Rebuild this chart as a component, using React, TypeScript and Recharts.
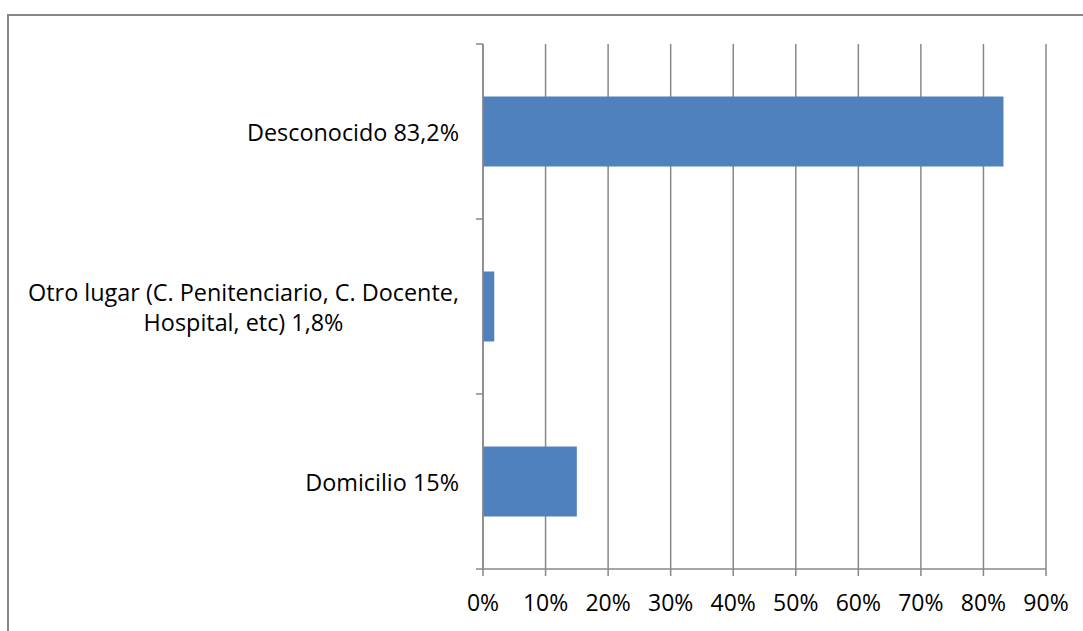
import React from 'react'
import { BarChart, Bar, XAxis, YAxis, CartesianGrid } from 'recharts'

const categories = [
  'Desconocido 83,2%',
  'Otro lugar (C. Penitenciario, C. Docente,\nHospital, etc) 1,8%',
  'Domicilio 15%',
]
const values = [0.832, 0.018, 0.15]
const xTicks = [0, 0.1, 0.2, 0.3, 0.4, 0.5, 0.6, 0.7, 0.8, 0.9]

const data = categories.map((name, i) => ({ name, value: values[i] }))

const FONT = '"Open Sans", sans-serif'
const GRID = '#888888'

// category label + Excel-style tick marks on the band edges
function CategoryTick(props: any) {
  const { x, y, payload, index, visibleTicksCount } = props
  const lines = String(payload.value).split('\n')
  const half = payload.offset || 0
  const axisX = x + 8
  const isLast = index === visibleTicksCount - 1
  return (
    <g>
      <line x1={axisX - 7} x2={axisX} y1={y - half} y2={y - half} stroke={GRID} strokeWidth={1.5} />
      {isLast && (
        <line x1={axisX - 7} x2={axisX} y1={y + half} y2={y + half} stroke={GRID} strokeWidth={1.5} />
      )}
      <foreignObject x={x - 491} y={y - 50} width={475} height={100}>
        <div
          style={{
            height: '100%',
            display: 'flex',
            justifyContent: 'flex-end',
            alignItems: 'center',
            fontFamily: FONT,
            fontSize: 23.4,
            color: '#000',
          }}
        >
          <div style={{ textAlign: 'center', lineHeight: '30px', whiteSpace: 'nowrap' }}>
            {lines.map((l, i) => (
              <div key={i}>{l}</div>
            ))}
          </div>
        </div>
      </foreignObject>
    </g>
  )
}

export default function App() {
  return (
    <div
      style={{
        position: 'absolute',
        left: 0,
        top: 0,
        width: 1083,
        height: 631,
        overflow: 'hidden',
        background: '#fff',
      }}
    >
      <div
        style={{
          position: 'absolute',
          left: 7,
          top: 14,
          width: 1200,
          height: 800,
          border: '2px solid #878787',
        }}
      />
      <div style={{ position: 'absolute', left: 0, top: 0 }}>
        <BarChart
          width={1083}
          height={631}
          data={data}
          layout="vertical"
          margin={{ top: 44, right: 37, bottom: 0, left: 0 }}
          barCategoryGap="30%"
        >
          <CartesianGrid horizontal={false} stroke={GRID} strokeWidth={1.5} />
          <XAxis
            type="number"
            domain={[0, 0.9]}
            ticks={xTicks}
            interval={0}
            height={62}
            tickFormatter={(v: number) => `${Math.round(v * 100)}%`}
            tick={{ fill: '#000', fontFamily: FONT, fontSize: 23 }}
            tickSize={7}
            tickMargin={19}
            axisLine={{ stroke: GRID, strokeWidth: 1.5 }}
            tickLine={{ stroke: GRID, strokeWidth: 1.5 }}
          />
          <YAxis
            type="category"
            dataKey="name"
            width={483}
            tick={<CategoryTick />}
            tickLine={false}
            axisLine={{ stroke: GRID, strokeWidth: 1.5 }}
            interval={0}
          />
          <Bar dataKey="value" fill="#4F81BD" isAnimationActive={false} />
        </BarChart>
      </div>
    </div>
  )
}
